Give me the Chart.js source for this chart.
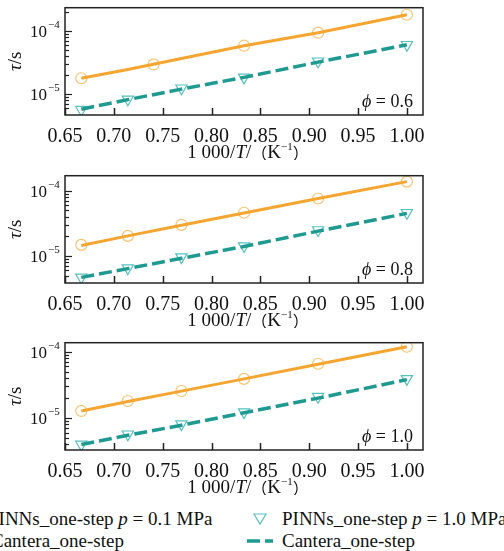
<!DOCTYPE html>
<html>
<head>
<meta charset="utf-8">
<script src="https://cdn.jsdelivr.net/npm/chart.js@4.4.1/dist/chart.umd.min.js"></script>
<style>
  body { margin: 0; width: 504px; height: 551px; overflow: hidden; background: #fff; position: relative;
         font-family: "Liberation Serif", "Times New Roman", "DejaVu Serif", serif; color: #111; }
  .panel { position: absolute; left: 0; width: 504px; height: 160px; }
  .leg { position: absolute; font-size: 19px; line-height: 22px; white-space: nowrap; }
  .leg i { font-style: italic; }
  .mark { position: absolute; }
</style>
</head>
<body>
<div class="panel" style="top:0"><canvas id="chart06"></canvas></div>
<div class="panel" style="top:168px"><canvas id="chart08"></canvas></div>
<div class="panel" style="top:335px"><canvas id="chart10"></canvas></div>

<!-- legend (cropped on the left like the source figure) -->
<svg class="mark" style="left:-33px;top:512px" width="14" height="14"><circle cx="7" cy="7" r="5.5" fill="none" stroke="#F9C470" stroke-width="1.2"/></svg>
<div class="leg" style="left:-12px;top:508px">PINNs_one-step <i>p</i> = 0.1 MPa</div>
<svg class="mark" style="left:-49px;top:536px" width="34" height="10"><line x1="0" y1="5" x2="34" y2="5" stroke="#F6A530" stroke-width="3"/></svg>
<div class="leg" style="left:-9px;top:530px">Cantera_one-step</div>

<svg class="mark" style="left:252px;top:511px" width="16" height="16"><polygon points="2,3 14,3 8,13" fill="none" stroke="#55C2C0" stroke-width="1.2"/></svg>
<div class="leg" style="left:282px;top:508px">PINNs_one-step <i>p</i> = 1.0 MPa</div>
<svg class="mark" style="left:247px;top:536px" width="26" height="10"><line x1="0" y1="5" x2="26" y2="5" stroke="#1F9A91" stroke-width="3.5" stroke-dasharray="13,5"/></svg>
<div class="leg" style="left:282px;top:530px">Cantera_one-step</div>

<script>
// 1000/T (K^-1) for T = 1500 ... 1000 K
const invT = [0.6667, 0.7143, 0.7692, 0.8333, 0.9091, 1.0];
const xTicks = [0.65, 0.70, 0.75, 0.80, 0.85, 0.90, 0.95, 1.00];

// phi = 0.6
const pinnsLowX06 = [0.6667, 0.7407, 0.8333, 0.9091, 1.0];
const pinnsLow06 = [1.78e-5, 2.94e-5, 5.8e-5, 9.3e-5, 1.78e-4];
const canteraLow06 = [1.78e-5, 2.45e-5, 3.65e-5, 5.8e-5, 9.3e-5, 1.78e-4];
const pinnsHigh06 = [5.7e-6, 8.3e-6, 1.24e-5, 1.84e-5, 3.3e-5, 6.0e-5];
const canteraHigh06 = [5.8e-6, 8.2e-6, 1.2e-5, 1.84e-5, 3.2e-5, 6.0e-5];

// phi = 0.8
const pinnsLow08 = [1.48e-5, 2.03e-5, 3.0e-5, 4.6e-5, 7.6e-5, 1.38e-4];
const canteraLow08 = [1.45e-5, 2.03e-5, 2.95e-5, 4.55e-5, 7.6e-5, 1.38e-4];
const pinnsHigh08 = [4.7e-6, 6.5e-6, 9.6e-6, 1.42e-5, 2.5e-5, 4.6e-5];
const canteraHigh08 = [4.7e-6, 6.4e-6, 9.2e-6, 1.4e-5, 2.4e-5, 4.5e-5];

// phi = 1.0
const pinnsLow10 = [1.28e-5, 1.81e-5, 2.56e-5, 3.9e-5, 6.6e-5, 1.19e-4];
const canteraLow10 = [1.28e-5, 1.78e-5, 2.55e-5, 3.9e-5, 6.5e-5, 1.19e-4];
const pinnsHigh10 = [4.0e-6, 5.7e-6, 8.1e-6, 1.23e-5, 2.1e-5, 3.9e-5];
const canteraHigh10 = [4.0e-6, 5.5e-6, 7.8e-6, 1.2e-5, 2.0e-5, 3.8e-5];

const ORANGE = '#F6A530';
const ORANGE_LIGHT = '#F9C470';
const TEAL = '#1F9A91';
const TEAL_LIGHT = '#55C2C0';
const FONT = '"Liberation Serif", "Times New Roman", "DejaVu Serif", serif';
const CJK = '"Noto Sans CJK SC", sans-serif';

function toPoints(xs, ys) {
    return xs.map((x, i) => ({ x: x, y: ys[i] }));
}

// draw a run of text pieces [text, font, dy] starting at x
function drawPieces(ctx, pieces, x, y) {
    pieces.forEach(p => {
        ctx.font = p[1];
        ctx.fillText(p[0], x, y + (p[2] || 0));
        x += ctx.measureText(p[0]).width;
    });
}
function piecesWidth(ctx, pieces) {
    let w = 0;
    pieces.forEach(p => { ctx.font = p[1]; w += ctx.measureText(p[0]).width; });
    return w;
}

// Frame, inward ticks, log labels and axis titles
const decorPlugin = {
    id: 'decor',
    afterDraw(chart, args, opts) {
        const ctx = chart.ctx;
        const area = chart.chartArea;
        const xs = chart.scales.x;
        const ys = chart.scales.y;
        ctx.save();
        ctx.strokeStyle = '#222';
        ctx.lineWidth = 1.5;
        ctx.strokeRect(area.left, area.top, area.right - area.left, area.bottom - area.top);

        // x ticks
        ctx.beginPath();
        xTicks.forEach(v => {
            const px = Math.round(xs.getPixelForValue(v)) + 0.5;
            ctx.moveTo(px, area.bottom);
            ctx.lineTo(px, area.bottom - 7);
        });
        ctx.stroke();

        // y ticks (log), major and minor
        ctx.lineWidth = 1.2;
        ctx.fillStyle = '#111';
        ys.ticks.forEach(t => {
            const v = t.value;
            const e = Math.floor(Math.log10(v) + 1e-9);
            const s = v / Math.pow(10, e);
            if (Math.abs(s - Math.round(s)) > 1e-6) return;
            const py = Math.round(ys.getPixelForValue(v)) + 0.5;
            if (py < area.top + 1 || py > area.bottom - 1) return;
            const major = Math.round(s) === 1;
            ctx.beginPath();
            ctx.moveTo(area.left, py);
            ctx.lineTo(area.left + (major ? 7 : 4), py);
            ctx.stroke();
            if (major) {
                ctx.textBaseline = 'middle';
                ctx.textAlign = 'right';
                ctx.font = '17px ' + FONT;
                ctx.fillText('10', area.left - 18, py + 1);
                ctx.textAlign = 'left';
                ctx.font = '11px ' + FONT;
                ctx.fillText('\u2212' + Math.abs(e), area.left - 17, py - 6);
            }
        });

        // y title  τ/s
        ctx.textAlign = 'left';
        ctx.textBaseline = 'middle';
        const yt = [['\u03C4', 'italic 19px ' + FONT], ['/s', '19px ' + FONT]];
        ctx.save();
        ctx.translate(16, (area.top + area.bottom) / 2);
        ctx.rotate(-Math.PI / 2);
        drawPieces(ctx, yt, -piecesWidth(ctx, yt) / 2, 0);
        ctx.restore();

        // x title  1 000/T/（K⁻¹）
        const xt = [['1 000/', '19px ' + FONT], ['T', 'italic 19px ' + FONT], ['/', '19px ' + FONT],
                    ['\uFF08', '16px ' + CJK], ['K', '19px ' + FONT],
                    ['\u22121', '11px ' + FONT, -6], ['\uFF09', '16px ' + CJK]];
        const cx = (area.left + area.right) / 2 + 4;
        drawPieces(ctx, xt, cx - piecesWidth(ctx, xt) / 2, area.bottom + 38);

        // phi label
        const pt = [['\u03D5', 'italic 18px ' + FONT], [' = ' + opts.phi, '18px ' + FONT]];
        drawPieces(ctx, pt, area.right - 10 - piecesWidth(ctx, pt), area.bottom - 13);
        ctx.restore();
    }
};

function makePanel(id, phi, lowX, pinnsLow, canteraLow, pinnsHigh, canteraHigh, yMin, yMax) {
    new Chart(document.getElementById(id), {
        type: 'scatter',
        data: {
            datasets: [
                {
                    label: 'Cantera_one-step 0.1 MPa',
                    data: toPoints(invT, canteraLow),
                    showLine: true,
                    borderColor: ORANGE,
                    borderWidth: 3,
                    pointRadius: 0
                },
                {
                    label: 'Cantera_one-step 1.0 MPa',
                    data: toPoints(invT, canteraHigh),
                    showLine: true,
                    borderColor: TEAL,
                    borderWidth: 3.5,
                    borderDash: [13, 5],
                    pointRadius: 0
                },
                {
                    label: 'PINNs_one-step p = 0.1 MPa',
                    data: toPoints(lowX, pinnsLow),
                    pointStyle: 'circle',
                    pointRadius: 5.5,
                    borderWidth: 1.2,
                    borderColor: ORANGE_LIGHT,
                    backgroundColor: 'rgba(0,0,0,0)'
                },
                {
                    label: 'PINNs_one-step p = 1.0 MPa',
                    data: toPoints(invT, pinnsHigh),
                    pointStyle: 'triangle',
                    pointRotation: 180,
                    pointRadius: 6.5,
                    borderWidth: 1.2,
                    borderColor: TEAL_LIGHT,
                    backgroundColor: 'rgba(0,0,0,0)'
                }
            ]
        },
        options: {
            responsive: true,
            maintainAspectRatio: false,
            animation: false,
            layout: { padding: { top: 7, right: 81, left: 0, bottom: 0 } },
            plugins: {
                legend: { display: false },
                tooltip: { enabled: false },
                decor: { phi: phi }
            },
            scales: {
                x: {
                    type: 'linear',
                    min: 0.65,
                    max: 1.0165,
                    afterBuildTicks: s => { s.ticks = xTicks.map(v => ({ value: v })); },
                    afterFit: s => { s.height = 45; },
                    grid: { display: false },
                    border: { display: false },
                    ticks: {
                        color: '#111',
                        font: { family: FONT, size: 20 },
                        padding: 2,
                        maxRotation: 0,
                        callback: v => v.toFixed(2)
                    }
                },
                y: {
                    type: 'logarithmic',
                    min: yMin,
                    max: yMax,
                    afterFit: s => { s.width = 65; },
                    grid: { display: false },
                    border: { display: false },
                    ticks: { display: false }
                }
            }
        },
        plugins: [decorPlugin]
    });
}

makePanel('chart06', '0.6', pinnsLowX06, pinnsLow06, canteraLow06, pinnsHigh06, canteraHigh06, 4.7e-6, 2.3e-4);
makePanel('chart08', '0.8', invT, pinnsLow08, canteraLow08, pinnsHigh08, canteraHigh08, 3.85e-6, 1.7e-4);
makePanel('chart10', '1.0', invT, pinnsLow10, canteraLow10, pinnsHigh10, canteraHigh10, 3.3e-6, 1.37e-4);
</script>
</body>
</html>
